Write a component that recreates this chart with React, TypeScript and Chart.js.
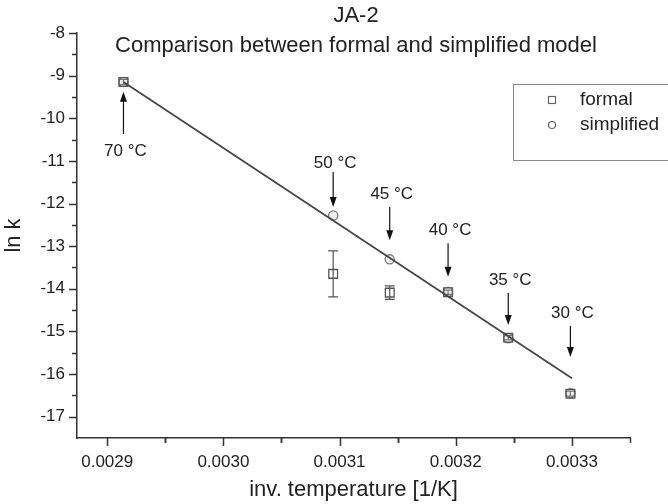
import React, { useEffect, useRef } from 'react';
import { Chart, registerables } from 'chart.js';

Chart.register(...registerables);

// ---- data ----
const tempLabels = ['70 °C', '50 °C', '45 °C', '40 °C', '35 °C', '30 °C'];
const invTemp = [0.002914, 0.0030945, 0.0031432, 0.0031934, 0.0032452, 0.0032987];
const formalLnK = [-9.15, -13.65, -14.09, -14.08, -15.15, -16.46];
const formalErr = [0.06, 0.54, 0.16, 0.05, 0.05, 0.06];
const simplifiedLnK = [-9.15, -12.28, -13.31, -14.07, -15.16, -16.45];
const fitX = [0.002914, 0.0033];
const fitY = [-9.15, -16.1];
// annotation arrows (tail -> tip) and label heights, in ln k units
const arrowTailY = [-10.37, -11.26, -12.08, -12.93, -14.1, -14.87];
const arrowTipY = [-9.38, -12.08, -12.86, -13.72, -14.85, -15.6];
const labelY = [-10.77, -11.05, -11.78, -12.62, -13.79, -14.57];
const xTicks = [0.0029, 0.003, 0.0031, 0.0032, 0.0033];
const yTicks = [-17, -16, -15, -14, -13, -12, -11, -10, -9, -8];
const titleText = 'JA-2';
const subtitleText = 'Comparison between formal and simplified model';
const xTitle = 'inv. temperature [1/K]';
const yTitle = 'ln k';
const seriesNames = ['formal', 'simplified'];

const FONT = "'Liberation Sans', Arial, Helvetica, sans-serif";

const decor = {
  id: 'decor',
  beforeDatasetsDraw(chart: any) {
    const ctx = chart.ctx;
    const xs = chart.scales.x;
    const ys = chart.scales.y;
    ctx.save();
    ctx.strokeStyle = '#555';
    ctx.lineWidth = 1.2;
    invTemp.forEach((xv, i) => {
      const px = xs.getPixelForValue(xv);
      const top = ys.getPixelForValue(formalLnK[i] + formalErr[i]);
      const bot = ys.getPixelForValue(formalLnK[i] - formalErr[i]);
      ctx.beginPath();
      ctx.moveTo(px, top);
      ctx.lineTo(px, bot);
      ctx.moveTo(px - 5, top);
      ctx.lineTo(px + 5, top);
      ctx.moveTo(px - 5, bot);
      ctx.lineTo(px + 5, bot);
      ctx.stroke();
    });
    ctx.restore();
  },
  afterDraw(chart: any) {
    const ctx = chart.ctx;
    const xs = chart.scales.x;
    const ys = chart.scales.y;
    const area = chart.chartArea;
    ctx.save();
    // ticks
    ctx.strokeStyle = '#333';
    ctx.lineWidth = 1.5;
    const xStep = xTicks[1] - xTicks[0];
    const xMinor: number[] = [];
    xTicks.forEach((v) => { xMinor.push(v - xStep / 2); xMinor.push(v + xStep / 2); });
    const drawX = (v: number, len: number) => {
      if (v < xs.min - 1e-12 || v > xs.max + 1e-12) return;
      const px = Math.round(xs.getPixelForValue(v)) + 0.5;
      ctx.beginPath();
      ctx.moveTo(px, area.bottom);
      ctx.lineTo(px, area.bottom + len);
      ctx.stroke();
    };
    xTicks.forEach((v) => drawX(v, 8));
    xMinor.forEach((v) => drawX(v, 5));
    const yStep = yTicks[1] - yTicks[0];
    const drawY = (v: number, len: number) => {
      if (v <= ys.min + 1e-9 || v > ys.max + 1e-9) return;
      const py = Math.round(ys.getPixelForValue(v)) + 0.5;
      ctx.beginPath();
      ctx.moveTo(area.left - len, py);
      ctx.lineTo(area.left, py);
      ctx.stroke();
    };
    yTicks.forEach((v) => drawY(v, 8));
    yTicks.forEach((v) => drawY(v + yStep / 2, 5));

    // arrows and labels
    ctx.strokeStyle = '#111';
    ctx.fillStyle = '#111';
    ctx.lineWidth = 1.2;
    ctx.font = `17px ${FONT}`;
    ctx.textAlign = 'center';
    ctx.textBaseline = 'middle';
    tempLabels.forEach((lab, i) => {
      const px = xs.getPixelForValue(invTemp[i]);
      const tail = ys.getPixelForValue(arrowTailY[i]);
      const tip = ys.getPixelForValue(arrowTipY[i]);
      const dir = tip > tail ? 1 : -1;
      ctx.beginPath();
      ctx.moveTo(px, tail);
      ctx.lineTo(px, tip - dir * 8);
      ctx.stroke();
      ctx.beginPath();
      ctx.moveTo(px, tip);
      ctx.lineTo(px - 3.5, tip - dir * 10);
      ctx.lineTo(px + 3.5, tip - dir * 10);
      ctx.closePath();
      ctx.fill();
      ctx.fillStyle = '#222';
      ctx.fillText(lab, px + 2, ys.getPixelForValue(labelY[i]));
      ctx.fillStyle = '#111';
    });

    // titles
    ctx.fillStyle = '#222';
    ctx.font = `22px ${FONT}`;
    ctx.fillText(titleText, 356, 16);
    ctx.fillText(subtitleText, 356, 46);

    // legend
    ctx.strokeStyle = '#888';
    ctx.lineWidth = 1;
    ctx.strokeRect(513.5, 84.5, 200, 76);
    ctx.strokeStyle = '#666';
    ctx.lineWidth = 1.2;
    ctx.strokeRect(548.5, 96.5, 7, 7);
    ctx.beginPath();
    ctx.arc(552, 125, 3.5, 0, Math.PI * 2);
    ctx.stroke();
    ctx.fillStyle = '#222';
    ctx.font = `19px ${FONT}`;
    ctx.textAlign = 'left';
    ctx.fillText(seriesNames[0], 580, 100);
    ctx.fillText(seriesNames[1], 580, 125);
    ctx.restore();
  },
};

export default function App() {
  const ref = useRef<HTMLCanvasElement>(null);
  useEffect(() => {
    document.body.style.margin = '0';
    const canvas = ref.current!;
    Chart.defaults.font.family = FONT;
    const chart = new Chart(canvas, {
      type: 'scatter',
      data: {
        datasets: [
          {
            label: 'fit',
            data: fitX.map((x, i) => ({ x, y: fitY[i] })),
            showLine: true,
            borderColor: '#444',
            borderWidth: 1.7,
            pointRadius: 0,
          },
          {
            label: seriesNames[0],
            data: invTemp.map((x, i) => ({ x, y: formalLnK[i] })),
            pointStyle: 'rect',
            pointRadius: 6.2,
            pointBorderColor: '#555',
            pointBackgroundColor: 'rgba(255,255,255,0)',
            pointBorderWidth: 1.3,
          },
          {
            label: seriesNames[1],
            data: invTemp.map((x, i) => ({ x, y: simplifiedLnK[i] })),
            pointStyle: 'circle',
            pointRadius: 4.6,
            pointBorderColor: '#777',
            pointBackgroundColor: 'rgba(200,200,200,0.3)',
            pointBorderWidth: 1.3,
          },
        ],
      },
      options: {
        animation: false,
        responsive: false,
        devicePixelRatio: 1,
        layout: { padding: { top: 33, right: 38, left: 0, bottom: 0 } },
        plugins: { legend: { display: false }, tooltip: { enabled: false }, title: { display: false } },
        scales: {
          x: {
            type: 'linear',
            min: 0.002874,
            max: 0.00335,
            afterBuildTicks: (s: any) => { s.ticks = xTicks.map((v) => ({ value: v })); },
            afterFit: (s: any) => { s.height = 66; },
            ticks: {
              callback: (v: any) => Number(v).toFixed(4),
              font: { size: 17 },
              color: '#222',
              padding: 14,
              maxRotation: 0,
              autoSkip: false,
            },
            grid: { display: false, drawTicks: false },
            border: { display: true, color: '#333', width: 1.5 },
            title: { display: true, text: xTitle, font: { size: 22 }, color: '#222', padding: { top: 0, bottom: 1 } },
          },
          y: {
            type: 'linear',
            min: -17.5,
            max: -8,
            afterBuildTicks: (s: any) => { s.ticks = yTicks.map((v) => ({ value: v })); },
            afterFit: (s: any) => { s.width = 77; },
            ticks: { font: { size: 17 }, color: '#222', padding: 12, autoSkip: false },
            grid: { display: false, drawTicks: false },
            border: { display: true, color: '#333', width: 1.5 },
            title: { display: true, text: yTitle, font: { size: 22 }, color: '#222', padding: { top: 1, bottom: 0 } },
          },
        },
      },
      plugins: [decor],
    } as any);
    return () => chart.destroy();
  }, []);
  return (
    <div style={{ width: 668, height: 504 }}>
      <canvas ref={ref} width={668} height={504} style={{ display: 'block' }} />
    </div>
  );
}
